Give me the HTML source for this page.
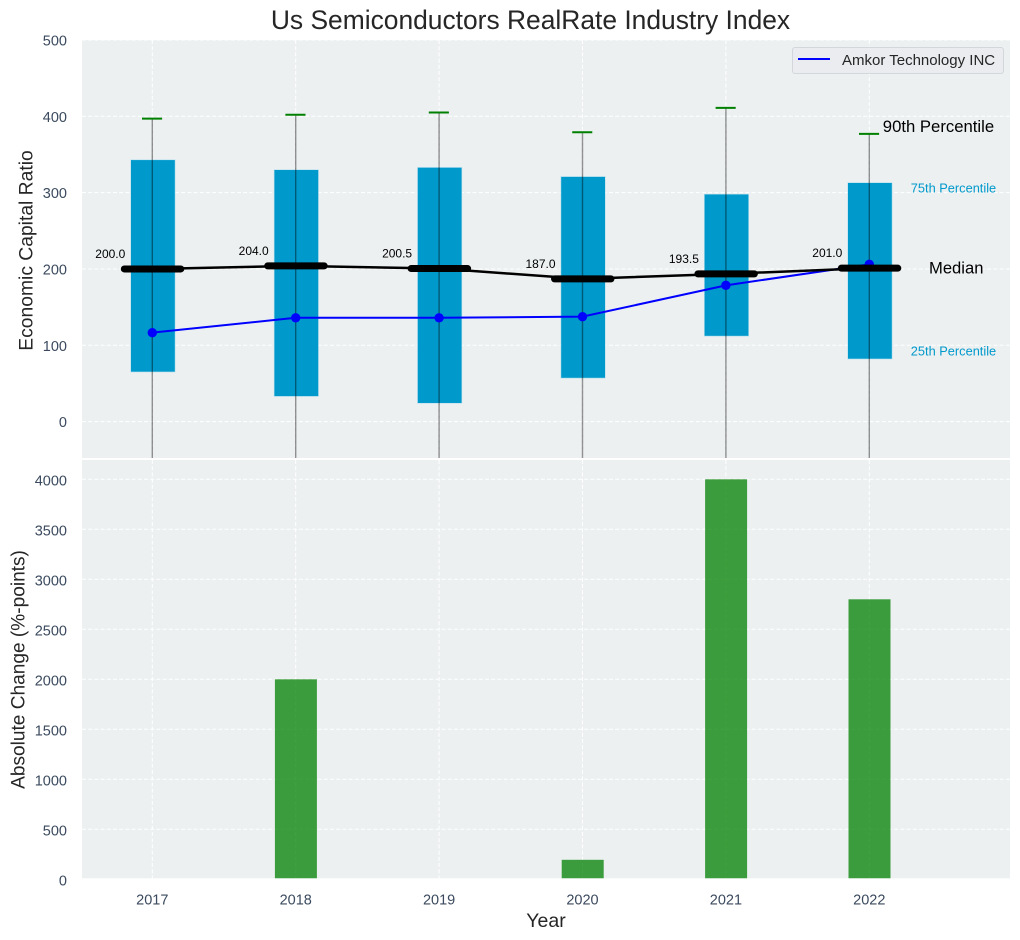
<!DOCTYPE html>
<html lang="en">
<head>
<meta charset="utf-8">
<title>Us Semiconductors RealRate Industry Index</title>
<style>
html,body{margin:0;padding:0;background:#fff;width:1020px;height:940px;overflow:hidden}
svg{display:block;font-family:"Liberation Sans",Arial,sans-serif}
</style>
</head>
<body>
<svg id="chart" xmlns="http://www.w3.org/2000/svg" width="1020" height="940" viewBox="0 0 1020 940">
  <defs>
    <clipPath id="top-clip"><rect x="82" y="40" width="928" height="418"/></clipPath>
    <clipPath id="bottom-clip"><rect x="82" y="460" width="928" height="418.3"/></clipPath>
  </defs>
  <text x="530.5" y="29" text-anchor="middle" font-size="26.4" fill="#262626">Us Semiconductors RealRate Industry Index</text>
  <rect x="82" y="40" width="928" height="418" fill="#ecf0f1"/>
  <rect x="82" y="460" width="928" height="418.3" fill="#ecf0f1"/>
  <g id="top-grid"></g>
  <g id="bottom-grid"></g>
  <g id="top-marks" clip-path="url(#top-clip)"></g>
  <g id="bars" clip-path="url(#bottom-clip)"></g>
  <g id="top-ticks"></g>
  <g id="bottom-ticks"></g>
  <g id="x-ticks"></g>
  <g id="annotations"></g>
  <text transform="translate(32.5,250.5) rotate(-90)" text-anchor="middle" font-size="19.3" fill="#262626">Economic Capital Ratio</text>
  <text transform="translate(24.5,669.5) rotate(-90)" text-anchor="middle" font-size="19.1" fill="#262626">Absolute Change (%-points)</text>
  <text x="546" y="927" text-anchor="middle" font-size="19.5" fill="#262626">Year</text>
  <g>
    <rect x="792.5" y="47.5" width="211" height="26" rx="2.5" fill="#eaecf0" stroke="#d3d6da" stroke-width="1"/>
    <line x1="798" y1="59" x2="830" y2="59" stroke="#0000ff" stroke-width="2"/>
    <text x="842" y="65" font-size="15" fill="#262626">Amkor Technology INC</text>
  </g>
</svg>
<script>
const years = [2017, 2018, 2019, 2020, 2021, 2022];
const p90 = [397, 402, 405, 379, 411, 377];
const p75 = [343, 330, 333, 321, 298, 313];
const medians = [200, 204, 200.5, 187, 193.5, 201];
const p25 = [65, 33, 24, 57, 112, 82];
const p10 = [-60, -60, -60, -60, -60, -60];
const amkor = [116.5, 136, 136, 137.5, 178.5, 206];
const absoluteChange = [0, 2000, 0, 195, 4000, 2800];
const topTicks = [0, 100, 200, 300, 400, 500];
const bottomTicks = [0, 500, 1000, 1500, 2000, 2500, 3000, 3500, 4000];

const NS = 'http://www.w3.org/2000/svg';
const xScale = function (year) { return 152.3 + (year - 2017) * 143.4; };
const yTop = function (v) { return 421.6 - v * 0.7633; };
const yBottom = function (v) { return 879.3 - v * 0.1; };

function make(tag, attrs, parent, text) {
  const el = document.createElementNS(NS, tag);
  Object.keys(attrs).forEach(function (k) { el.setAttribute(k, attrs[k]); });
  if (text !== undefined) el.textContent = text;
  parent.appendChild(el);
  return el;
}

const topGrid = document.getElementById('top-grid');
const bottomGrid = document.getElementById('bottom-grid');
const topTickGroup = document.getElementById('top-ticks');
const bottomTickGroup = document.getElementById('bottom-ticks');
const xTickGroup = document.getElementById('x-ticks');
const topMarks = document.getElementById('top-marks');
const barGroup = document.getElementById('bars');
const annotations = document.getElementById('annotations');
const gridStyle = { stroke: '#ffffff', 'stroke-width': 1, 'stroke-dasharray': '4 2.2', fill: 'none' };

topTicks.forEach(function (t) {
  const g = make('line', Object.assign({ x1: 82, x2: 1010, y1: yTop(t), y2: yTop(t) }, gridStyle), topGrid);
  
  
  const label = make('text', { x: 67, y: yTop(t) + 5.5, 'text-anchor': 'end', 'font-size': 14.5, fill: '#3b4a5e' }, topTickGroup, String(t));
  
  
});

bottomTicks.forEach(function (t) {
  if (yBottom(t) < 878.3) {
    const g = make('line', Object.assign({ x1: 82, x2: 1010, y1: yBottom(t), y2: yBottom(t) }, gridStyle), bottomGrid);
    
    
  }
  const label = make('text', { x: 67, y: yBottom(t) + 6, 'text-anchor': 'end', 'font-size': 14.5, fill: '#3b4a5e' }, bottomTickGroup, String(t));
  
  
});

years.forEach(function (year) {
  const x = xScale(year);
  const a = make('line', Object.assign({ x1: x, x2: x, y1: 40, y2: 458 }, gridStyle), topGrid);
  
  
  const b = make('line', Object.assign({ x1: x, x2: x, y1: 460, y2: 878.3 }, gridStyle), bottomGrid);
  
  
  const label = make('text', { x: x, y: 904.3, 'text-anchor': 'middle', 'font-size': 14.5, fill: '#3b4a5e' }, xTickGroup, String(year));
  
  
});

/* percentile boxes */
years.forEach(function (year, i) {
  const x = xScale(year);
  const box = make('rect', {
    x: x - 21.6, width: 44.4, y: yTop(p75[i]), height: yTop(p25[i]) - yTop(p75[i]),
    fill: '#0099cc', stroke: '#b9e0ee', 'stroke-width': 0.6
  }, topMarks);
  
  
});

/* whiskers and caps */
years.forEach(function (year, i) {
  const x = xScale(year);
  const whisker = make('line', {
    x1: x, x2: x, y1: yTop(p90[i]), y2: yTop(p10[i]),
    stroke: '#000000', 'stroke-opacity': 0.42, 'stroke-width': 1.4
  }, topMarks);
  
  
  const cap = make('line', {
    x1: x - 10.3, x2: x + 9.8, y1: yTop(p90[i]), y2: yTop(p90[i]),
    stroke: '#008000', 'stroke-width': 2
  }, topMarks);
  
  
});

/* company series */
const amkorPoints = years.map(function (year, i) { return xScale(year) + ',' + yTop(amkor[i]); }).join(' ');
const amkorLine = make('polyline', { points: amkorPoints, fill: 'none', stroke: '#0000ff', 'stroke-width': 2 }, topMarks);


years.forEach(function (year, i) {
  const dot = make('circle', { cx: xScale(year), cy: yTop(amkor[i]), r: 4.7, fill: '#0000ff' }, topMarks);
  
  
});

/* medians */
const medianPoints = years.map(function (year, i) { return xScale(year) + ',' + yTop(medians[i]); }).join(' ');
const medianLine = make('polyline', { points: medianPoints, fill: 'none', stroke: '#000000', 'stroke-width': 2.5 }, topMarks);


years.forEach(function (year, i) {
  const x = xScale(year);
  const y = yTop(medians[i]);
  const bar = make('line', {
    x1: x - 28, x2: x + 28.5, y1: y, y2: y,
    stroke: '#000000', 'stroke-width': 7, 'stroke-linecap': 'round'
  }, topMarks);
  
  
  const label = make('text', { x: x - 27, y: y - 11, 'text-anchor': 'end', 'font-size': 12, fill: '#000000' }, annotations, medians[i].toFixed(1));
  
  
});

/* bars */
years.forEach(function (year, i) {
  const x = xScale(year);
  const bar = make('rect', {
    x: x - 20.8, width: 42, y: yBottom(absoluteChange[i]), height: yBottom(0) - yBottom(absoluteChange[i]),
    fill: '#008000', 'fill-opacity': 0.75
  }, barGroup);
  
  
});

/* side annotations anchored to the last year */
const last = years.length - 1;
const lastX = xScale(years[last]);
const p90Label = make('text', { x: lastX + 13.5, y: yTop(p90[last]) - 2, 'font-size': 16.7, fill: '#000000' }, annotations, '90th Percentile');


const p75Label = make('text', { x: lastX + 41.5, y: yTop(p75[last]) + 10, 'font-size': 12.8, fill: '#0099cc' }, annotations, '75th Percentile');


const medianLabel = make('text', { x: lastX + 59.7, y: yTop(medians[last]) + 5.5, 'font-size': 16.6, fill: '#000000' }, annotations, 'Median');


const p25Label = make('text', { x: lastX + 41.5, y: yTop(p25[last]) - 3.5, 'font-size': 12.8, fill: '#0099cc' }, annotations, '25th Percentile');


</script>
</body>
</html>
